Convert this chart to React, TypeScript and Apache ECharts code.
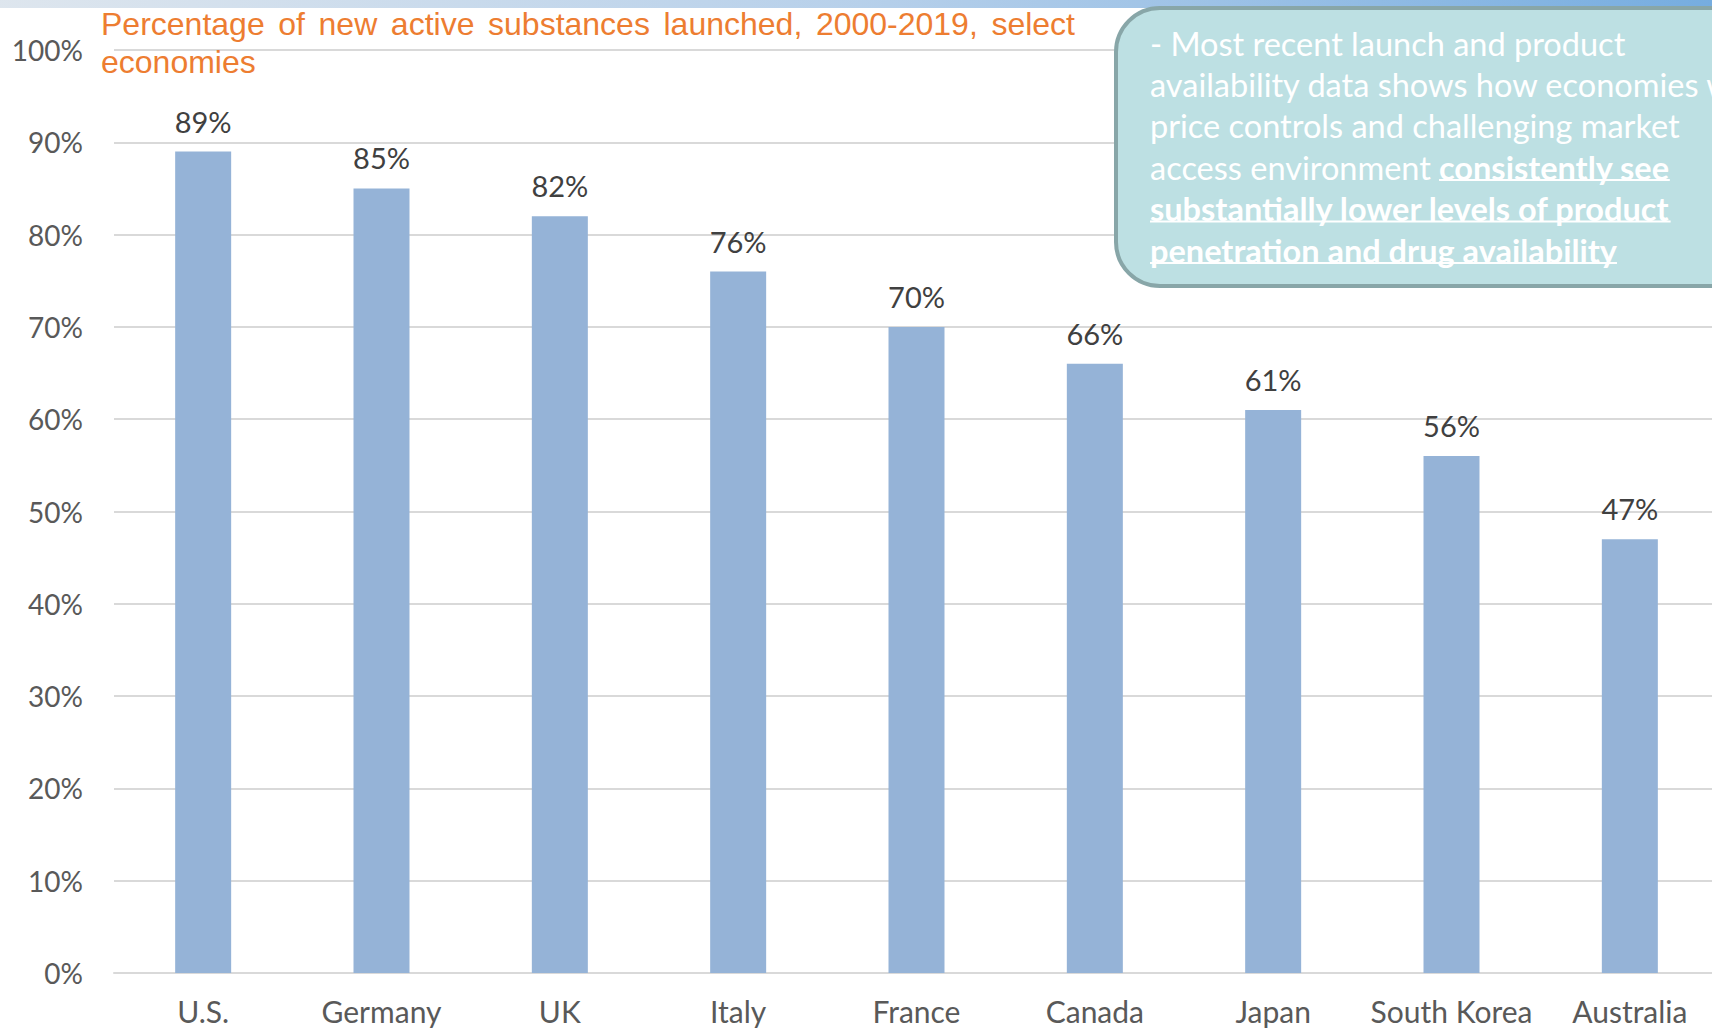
import React, { useEffect, useRef } from "react";
import * as echarts from "echarts";

const categories = ["U.S.", "Germany", "UK", "Italy", "France", "Canada", "Japan", "South Korea", "Australia"];
const values = [89, 85, 82, 76, 70, 66, 61, 56, 47];
const yTicks = { min: 0, max: 100, interval: 10 };
const titleLines = ["Percentage of new active substances launched, 2000-2019, select", "economies"];
const calloutNormal = [
  "- Most recent launch and product",
  "availability data shows how economies with",
  "price controls and challenging market",
  "access environment ",
];
const calloutBold = ["consistently see", "substantially lower levels of product", "penetration and drug availability"];

const AXIS_FONT = "Lato, 'Noto Sans', sans-serif";
const TITLE_FONT = "'Liberation Sans', Arial, sans-serif";

function measure(text: string, font: string): number {
  const c = document.createElement("canvas").getContext("2d");
  if (!c) return text.length * 16;
  c.font = font;
  return c.measureText(text).width;
}

export default function App() {
  const ref = useRef<HTMLDivElement>(null);
  useEffect(() => {
    if (!ref.current) return;
    const chart = echarts.init(ref.current, undefined, { renderer: "svg" });
    const lineY = [43.7, 84, 125.6, 167, 208.5, 250];
    const calloutStyle = { fill: "#ffffff", fontFamily: AXIS_FONT, fontSize: 32.5, align: "left", verticalAlign: "middle" };
    const titleStyle = { fill: "#ED7D31", fontFamily: TITLE_FONT, fontSize: 32, align: "left", verticalAlign: "middle" };

    const graphics: any[] = [
      {
        type: "rect",
        shape: { x: 0, y: 0, width: 1720, height: 8 },
        style: {
          fill: new echarts.graphic.LinearGradient(0, 0, 1, 0, [
            { offset: 0, color: "rgba(218,227,236,0.9)" },
            { offset: 0.5, color: "rgba(175,203,232,0.9)" },
            { offset: 1, color: "rgba(110,168,222,0.95)" },
          ]),
        },
        z: 1,
      },
    ];

    // justified first title line
    const words = titleLines[0].split(" ");
    const fontStr = `32px 'Liberation Sans', Arial, sans-serif`;
    const widths = words.map((w) => measure(w, fontStr));
    const total = widths.reduce((a, b) => a + b, 0);
    const startX = 101;
    const endX = 1075;
    const gap = (endX - startX - total) / (words.length - 1);
    let cx = startX;
    words.forEach((w, i) => {
      graphics.push({ type: "text", x: cx, y: 24, style: { ...titleStyle, text: w }, z: 5 });
      cx += widths[i] + gap;
    });
    graphics.push({ type: "text", x: 101, y: 62, style: { ...titleStyle, text: titleLines[1] }, z: 5 });

    graphics.push({
      type: "rect",
      shape: { x: 1116, y: 8, width: 700, height: 278, r: 44 },
      style: { fill: "#BDE0E3", stroke: "#88A6A8", lineWidth: 4 },
      z: 10,
    });
    calloutNormal.forEach((t, i) => {
      graphics.push({ type: "text", x: 1150, y: lineY[i], style: { ...calloutStyle, text: t }, z: 11 });
    });
    const boldFont = `bold 32.5px Lato, 'Noto Sans', sans-serif`;
    const boldX = [1439, 1150, 1150];
    calloutBold.forEach((t, i) => {
      const w = measure(t, boldFont);
      graphics.push({ type: "text", x: boldX[i], y: lineY[i + 3], style: { ...calloutStyle, text: t, fontWeight: "bold" }, z: 11 });
      graphics.push({
        type: "line",
        shape: { x1: boldX[i], y1: lineY[i + 3] + 13, x2: boldX[i] + w, y2: lineY[i + 3] + 13 },
        style: { stroke: "#ffffff", lineWidth: 2 },
        z: 11,
      });
    });

    chart.setOption({
      animation: false,
      backgroundColor: "#ffffff",
      grid: { left: 114, right: 1, top: 50, bottom: 56, containLabel: false },
      xAxis: {
        type: "category",
        data: categories,
        axisLine: { lineStyle: { color: "#D9D9D9", width: 2 } },
        axisTick: { show: false },
        axisLabel: { color: "#595959", fontSize: 30, fontFamily: AXIS_FONT, margin: 23, interval: 0 },
      },
      yAxis: {
        type: "value",
        min: yTicks.min,
        max: yTicks.max,
        interval: yTicks.interval,
        axisLine: { show: false },
        axisTick: { show: false },
        axisLabel: { color: "#595959", fontSize: 28, fontFamily: AXIS_FONT, margin: 31, formatter: (v: number) => `${v}%` },
        splitLine: { lineStyle: { color: "#D9D9D9", width: 2 } },
      },
      series: [
        {
          type: "bar",
          data: values,
          barWidth: 56,
          itemStyle: { color: "#95B3D7" },
          label: { show: true, position: "top", distance: 16, formatter: "{c}%", color: "#404040", fontSize: 29, fontFamily: AXIS_FONT },
        },
      ],
      graphic: graphics,
    });
    return () => chart.dispose();
  }, []);
  return <div ref={ref} style={{ position: "fixed", left: 0, top: 0, width: 1720, height: 1029 }} />;
}
